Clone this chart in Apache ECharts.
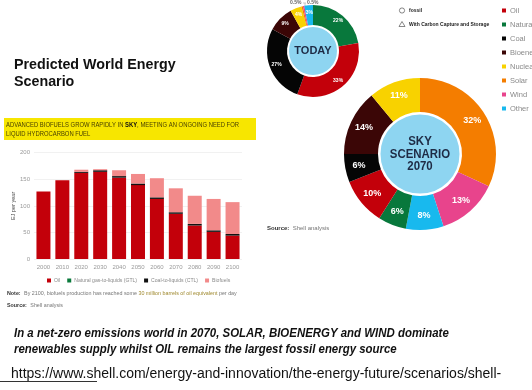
<!DOCTYPE html>
<html><head><meta charset="utf-8">
<script src="https://cdn.jsdelivr.net/npm/echarts@6/dist/echarts.min.js"></script>
<style>html,body{margin:0;padding:0;background:#fff}#c{width:532px;height:390px}</style>
</head><body><div id="c"></div>
<script>
// ---- Bar chart data (EJ per year) ----
const years = ['2000','2010','2020','2030','2040','2050','2060','2070','2080','2090','2100'];
const oil = [127,148,162,164,153,139,113,85,63,51,44];
const gasToLiquids = [0,0,0,0,0,0,0,0,0,0,0];
const coalToLiquids = [0,0,2,3,3,3,3,3,3,3,3];
const biofuels = [0,0,4,2,11,18,36,45,53,59,60];
const yTicks = [0,50,100,150,200];

// ---- Donut data (% share of energy) ----
const energySources = ['Oil','Natural gas','Coal','Bioenergy','Nuclear','Solar','Wind','Other'];
const todayShare = [33,22,27,9,4,0.5,0.5,3];
const sky2070Share = [10,6,6,14,11,32,13,8];
const todayOrder = ['Natural gas','Oil','Coal','Bioenergy','Nuclear','Solar','Wind','Other'];
const skyOrder = ['Solar','Wind','Other','Natural gas','Oil','Coal','Bioenergy','Nuclear'];

const colors = {
  'Oil':'#c3000a','Natural gas':'#08783c','Coal':'#050505','Bioenergy':'#3b0606',
  'Nuclear':'#f8d200','Solar':'#f47d00','Wind':'#e8448c','Other':'#18b9ee'
};
const barColors = {oil:'#c3000a', gtl:'#0b7a3c', ctl:'#111111', bio:'#f28a8a'};

function pieData(order, shares){
  return order.map(n => ({name:n, value:shares[energySources.indexOf(n)], itemStyle:{color:colors[n]}}));
}

const chart = echarts.init(document.getElementById('c'), null, {renderer:'canvas'});
const FF = '"Liberation Sans", Arial, sans-serif';

const option = {
  backgroundColor:'#ffffff',
  animation:false,
  textStyle:{fontFamily:FF},
  legend:[
    {
      data:['Oil','Natural gas-to-liquids (GTL)','Coal-to-liquids (CTL)','Biofuels'],
      left:42, top:273, itemWidth:4, itemHeight:4, itemGap:7, icon:'rect',
      selectedMode:false,
      textStyle:{fontSize:5.1, color:'#8a8a8a', padding:[0,0,0,-2]}
    },
    {
      data:energySources.map(n => ({name:n, itemStyle:{color:colors[n]}})),
      orient:'vertical', left:497, top:1, itemWidth:4, itemHeight:4, itemGap:5, icon:'rect',
      selectedMode:false,
      textStyle:{fontSize:7.5, lineHeight:9, color:'#8a8a8a', padding:[0,0,0,-1]}
    }
  ],
  grid:{left:34, right:290, top:152.7, bottom:131, containLabel:false},
  xAxis:{
    type:'category', data:years,
    axisLine:{show:false}, axisTick:{show:false},
    axisLabel:{fontSize:6, color:'#9a9a9a', margin:5}
  },
  yAxis:{
    type:'value', min:0, max:200, interval:50,
    name:'EJ per year', nameLocation:'middle', nameGap:12, nameRotate:90,
    nameTextStyle:{fontSize:5.5, color:'#444'},
    axisLine:{show:false}, axisTick:{show:false},
    axisLabel:{fontSize:6, color:'#9a9a9a', margin:4, formatter:v => yTicks.includes(v) ? String(v) : ''},
    splitLine:{lineStyle:{color:'#f1f1f1', width:1}}
  },
  series:[
    {name:'Oil', type:'bar', stack:'t', data:oil, barWidth:'74%', itemStyle:{color:barColors.oil}},
    {name:'Natural gas-to-liquids (GTL)', type:'bar', stack:'t', data:gasToLiquids, itemStyle:{color:barColors.gtl}},
    {name:'Coal-to-liquids (CTL)', type:'bar', stack:'t', data:coalToLiquids, itemStyle:{color:barColors.ctl}},
    {name:'Biofuels', type:'bar', stack:'t', data:biofuels, itemStyle:{color:barColors.bio}},
    {
      name:'Today', type:'pie', center:[313,51], radius:[26,46], startAngle:90, clockwise:true,
      silent:true, avoidLabelOverlap:false,
      label:{show:true, position:'inside', color:'#fff', fontSize:5, fontWeight:'bold',
        formatter:p => p.value < 1 ? '' : p.value + '%'},
      labelLine:{show:false},
      itemStyle:{borderWidth:0},
      data:pieData(todayOrder, todayShare)
    },
    {
      name:'Sky 2070', type:'pie', center:[420,154], radius:[42,76], startAngle:90, clockwise:true,
      silent:true, avoidLabelOverlap:false,
      label:{show:true, position:'inside', color:'#fff', fontSize:9, fontWeight:'bold',
        formatter:p => p.value + '%'},
      labelLine:{show:false},
      itemStyle:{borderWidth:0},
      data:pieData(skyOrder, sky2070Share)
    }
  ],
  graphic:[
    // title
    {type:'text', x:14, y:57, scaleX:1.02, style:{text:'Predicted World Energy\nScenario', font:'bold 14px '+FF, fill:'#111', lineHeight:17}},
    // yellow banner
    {type:'rect', shape:{x:4, y:118, width:252, height:22}, style:{fill:'#f7e600'}},
    {type:'text', x:6, y:121, scaleX:0.92, style:{
      text:'{n|ADVANCED BIOFUELS GROW RAPIDLY IN }{b|SKY}{n|, MEETING AN ONGOING NEED FOR}\n{n|LIQUID HYDROCARBON FUEL}',
      rich:{n:{fontSize:6.4, fill:'#4a4200', fontFamily:FF, lineHeight:9}, b:{fontSize:6.4, fontWeight:'bold', fill:'#111', fontFamily:FF, lineHeight:9}}
    }},
    // note & source
    {type:'text', x:7, y:288, scaleX:1.03, style:{
      text:'{b|Note:} {g|By 2100, biofuels production has reached some }{o|30 million barrels of oil equivalent}{g| per day}\n{b|Source:} {g|Shell analysis}',
      rich:{b:{fontSize:5.2, fontWeight:'bold', fill:'#333', lineHeight:9, fontFamily:FF}, g:{fontSize:5.2, fill:'#777', lineHeight:9, fontFamily:FF}, o:{fontSize:5.2, fill:'#a08a30', lineHeight:9, fontFamily:FF}}
    }},
    {type:'text', x:267, y:222, style:{
      text:'{b|Source:} {g|Shell analysis}',
      rich:{b:{fontSize:6, fontWeight:'bold', fill:'#333', fontFamily:FF}, g:{fontSize:6, fill:'#777', fontFamily:FF}}
    }},
    // globes
    {type:'circle', shape:{cx:313, cy:51, r:25}, style:{fill:'#8ed5f1', stroke:'#fff', lineWidth:2}},
    {type:'text', x:313, y:51, style:{text:'TODAY', font:'bold 11px '+FF, fill:'#1e2b45', align:'center', verticalAlign:'middle'}},
    {type:'circle', shape:{cx:420, cy:154, r:41}, style:{fill:'#8ed5f1', stroke:'#fff', lineWidth:3}},
    {type:'text', x:420, y:154, scaleX:0.88, style:{text:'SKY\nSCENARIO\n2070', font:'bold 13px '+FF, fill:'#1e2b45', align:'center', verticalAlign:'middle', lineHeight:12.5}},
    // tiny labels above TODAY
    {type:'text', x:290, y:0, style:{text:'0.5%', font:'bold 5px '+FF, fill:'#666'}},
    {type:'text', x:307, y:0, style:{text:'0.5%', font:'bold 5px '+FF, fill:'#666'}},
    {type:'line', shape:{x1:303, y1:3, x2:306, y2:3}, style:{stroke:'#aaa', lineWidth:0.6}},
    {type:'line', shape:{x1:305, y1:3, x2:305, y2:8}, style:{stroke:'#aaa', lineWidth:0.6}},
    // fossil / CCS key
    {type:'circle', shape:{cx:402, cy:10.5, r:2.6}, style:{fill:'#fff', stroke:'#555', lineWidth:0.7}},
    {type:'text', x:409, y:8, style:{text:'fossil', font:'bold 5px '+FF, fill:'#222'}},
    {type:'polygon', shape:{points:[[402,21.5],[399,26.5],[405,26.5]]}, style:{fill:'#fff', stroke:'#555', lineWidth:0.7}},
    {type:'text', x:409, y:22, style:{text:'With Carbon Capture and Storage', font:'bold 5px '+FF, fill:'#222'}},
    // symbol annotations on donuts
    {type:'text', x:321, y:10, style:{text:'●', font:'4px '+FF, fill:'#fff', align:'center', verticalAlign:'middle'}},
    {type:'text', x:305, y:96, style:{text:'●', font:'4px '+FF, fill:'#fff', align:'center', verticalAlign:'middle'}},
    {type:'text', x:273, y:40, style:{text:'●', font:'4px '+FF, fill:'#fff', align:'center', verticalAlign:'middle'}},
    {type:'text', x:371, y:103, style:{text:'▲', font:'5px '+FF, fill:'#fff', align:'center', verticalAlign:'middle'}},
    {type:'text', x:351, y:157, style:{text:'●▲', font:'5px '+FF, fill:'#fff', align:'center', verticalAlign:'middle'}},
    {type:'text', x:358, y:184, style:{text:'●▲', font:'5px '+FF, fill:'#fff', align:'center', verticalAlign:'middle'}},
    {type:'text', x:394, y:219, style:{text:'●●', font:'5px '+FF, fill:'#fff', align:'center', verticalAlign:'middle'}},
    // bottom caption
    {type:'text', x:14, y:325, scaleX:0.88, style:{text:'In a net-zero emissions world in 2070, SOLAR, BIOENERGY and WIND dominate\nrenewables supply whilst OIL remains the largest fossil energy source', font:'italic bold 13px '+FF, fill:'#111', lineHeight:16}},
    {type:'text', x:11, y:367, style:{text:'https://www.shell.com/energy-and-innovation/the-energy-future/scenarios/shell-', font:'14px '+FF, fill:'#111'}},
    {type:'line', shape:{x1:0, y1:381.5, x2:97, y2:381.5}, style:{stroke:'#333', lineWidth:1}}
  ]
};
chart.setOption(option);
</script>
</body></html>
